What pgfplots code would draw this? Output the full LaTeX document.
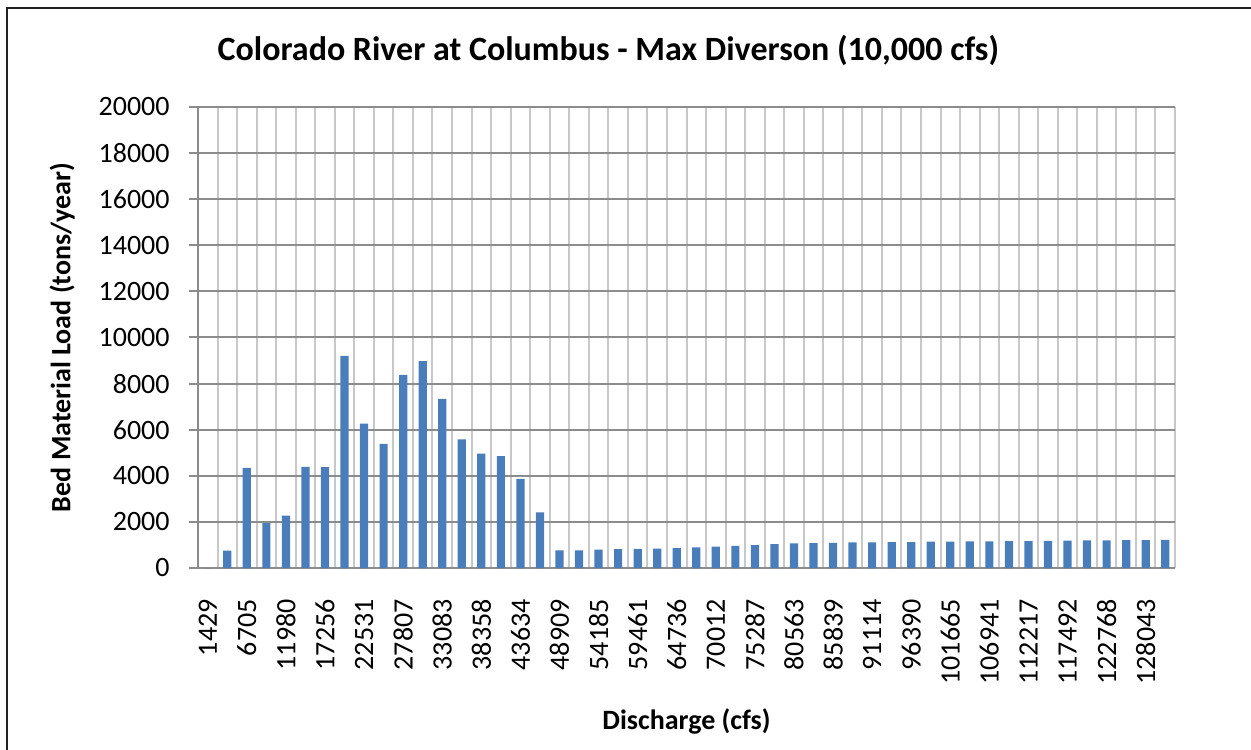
\documentclass[border=0pt]{standalone}
\usepackage{fontspec}
\setmainfont{Carlito}
\usepackage{pgfplots}
\pgfplotsset{compat=1.18}
\definecolor{barblue}{HTML}{4A7EBB}
\definecolor{hgrid}{HTML}{8C8C8C}
\definecolor{vgrid}{HTML}{C8C8C8}
\definecolor{framecol}{HTML}{222222}

% bed material load per discharge class (category index, tons/year)
\pgfplotstableread{
k load
0 0
1 750
2 4340
3 1950
4 2270
5 4390
6 4380
7 9200
8 6260
9 5390
10 8380
11 8970
12 7340
13 5580
14 4960
15 4850
16 3870
17 2410
18 770
19 770
20 800
21 815
22 830
23 845
24 860
25 890
26 930
27 960
28 990
29 1035
30 1065
31 1080
32 1095
33 1110
34 1110
35 1125
36 1125
37 1140
38 1140
39 1150
40 1155
41 1165
42 1170
43 1180
44 1185
45 1195
46 1200
47 1210
48 1210
49 1215
}\loaddata

\begin{document}
\begin{tikzpicture}
\useasboundingbox (0,0) rectangle (625.5pt,374.5pt);
\draw[framecol, line width=1.2pt] (3.5pt,-20pt) -- (3.5pt,370.5pt) -- (660pt,370.5pt);
\begin{axis}[
  at={(99pt,90.5pt)}, anchor=south west,
  scale only axis, width=488.5pt, height=230.5pt,
  ybar, bar width=0.42, bar shift=0pt,
  xmin=-0.5, xmax=49.5, ymin=0, ymax=20000,
  xtick={0,2,...,48},
  xticklabels={1429,6705,11980,17256,22531,27807,33083,38358,43634,48909,54185,59461,64736,70012,75287,80563,85839,91114,96390,101665,106941,112217,117492,122768,128043},
  minor xtick={-0.5,0.5,...,49.5},
  ytick={0,2000,...,20000},
  scaled y ticks=false,
  /pgf/number format/assume math mode=true,
  /pgf/number format/1000 sep={},
  axis lines*=left,
  axis line style={hgrid, line width=1pt},
  xmajorgrids=false, xminorgrids=true, ymajorgrids=true,
  minor grid style={vgrid, line width=1pt},
  major grid style={hgrid, line width=1pt},
  x tick style={draw=none}, minor x tick style={draw=none},
  y tick style={hgrid, line width=1pt},
  tick align=outside, major tick length=4.5pt,
  ticklabel style={font=\fontsize{14}{16}\selectfont},
  xticklabel style={rotate=90, anchor=east, inner sep=0pt},
  xticklabel shift=11pt,
  yticklabel style={inner sep=0pt},
  yticklabel shift=9.5pt,
  title={Colorado River at Columbus - Max Diverson (10,000 cfs)},
  title style={at={(axis description cs:0.42,1.097)}, anchor=center, font=\fontsize{17}{20}\selectfont\bfseries},
  xlabel={Discharge (cfs)},
  xlabel style={at={(axis description cs:0.5,-0.334)}, anchor=center, font=\fontsize{14}{16}\selectfont\bfseries},
  ylabel={Bed Material Load (tons/year)},
  ylabel style={at={(axis description cs:-0.139,0.5)}, anchor=center, rotate=0, font=\fontsize{14}{16}\selectfont\bfseries},
]
\addplot[fill=barblue, draw=none] table[x=k, y=load] {\loaddata};
\end{axis}
\end{tikzpicture}
\end{document}
